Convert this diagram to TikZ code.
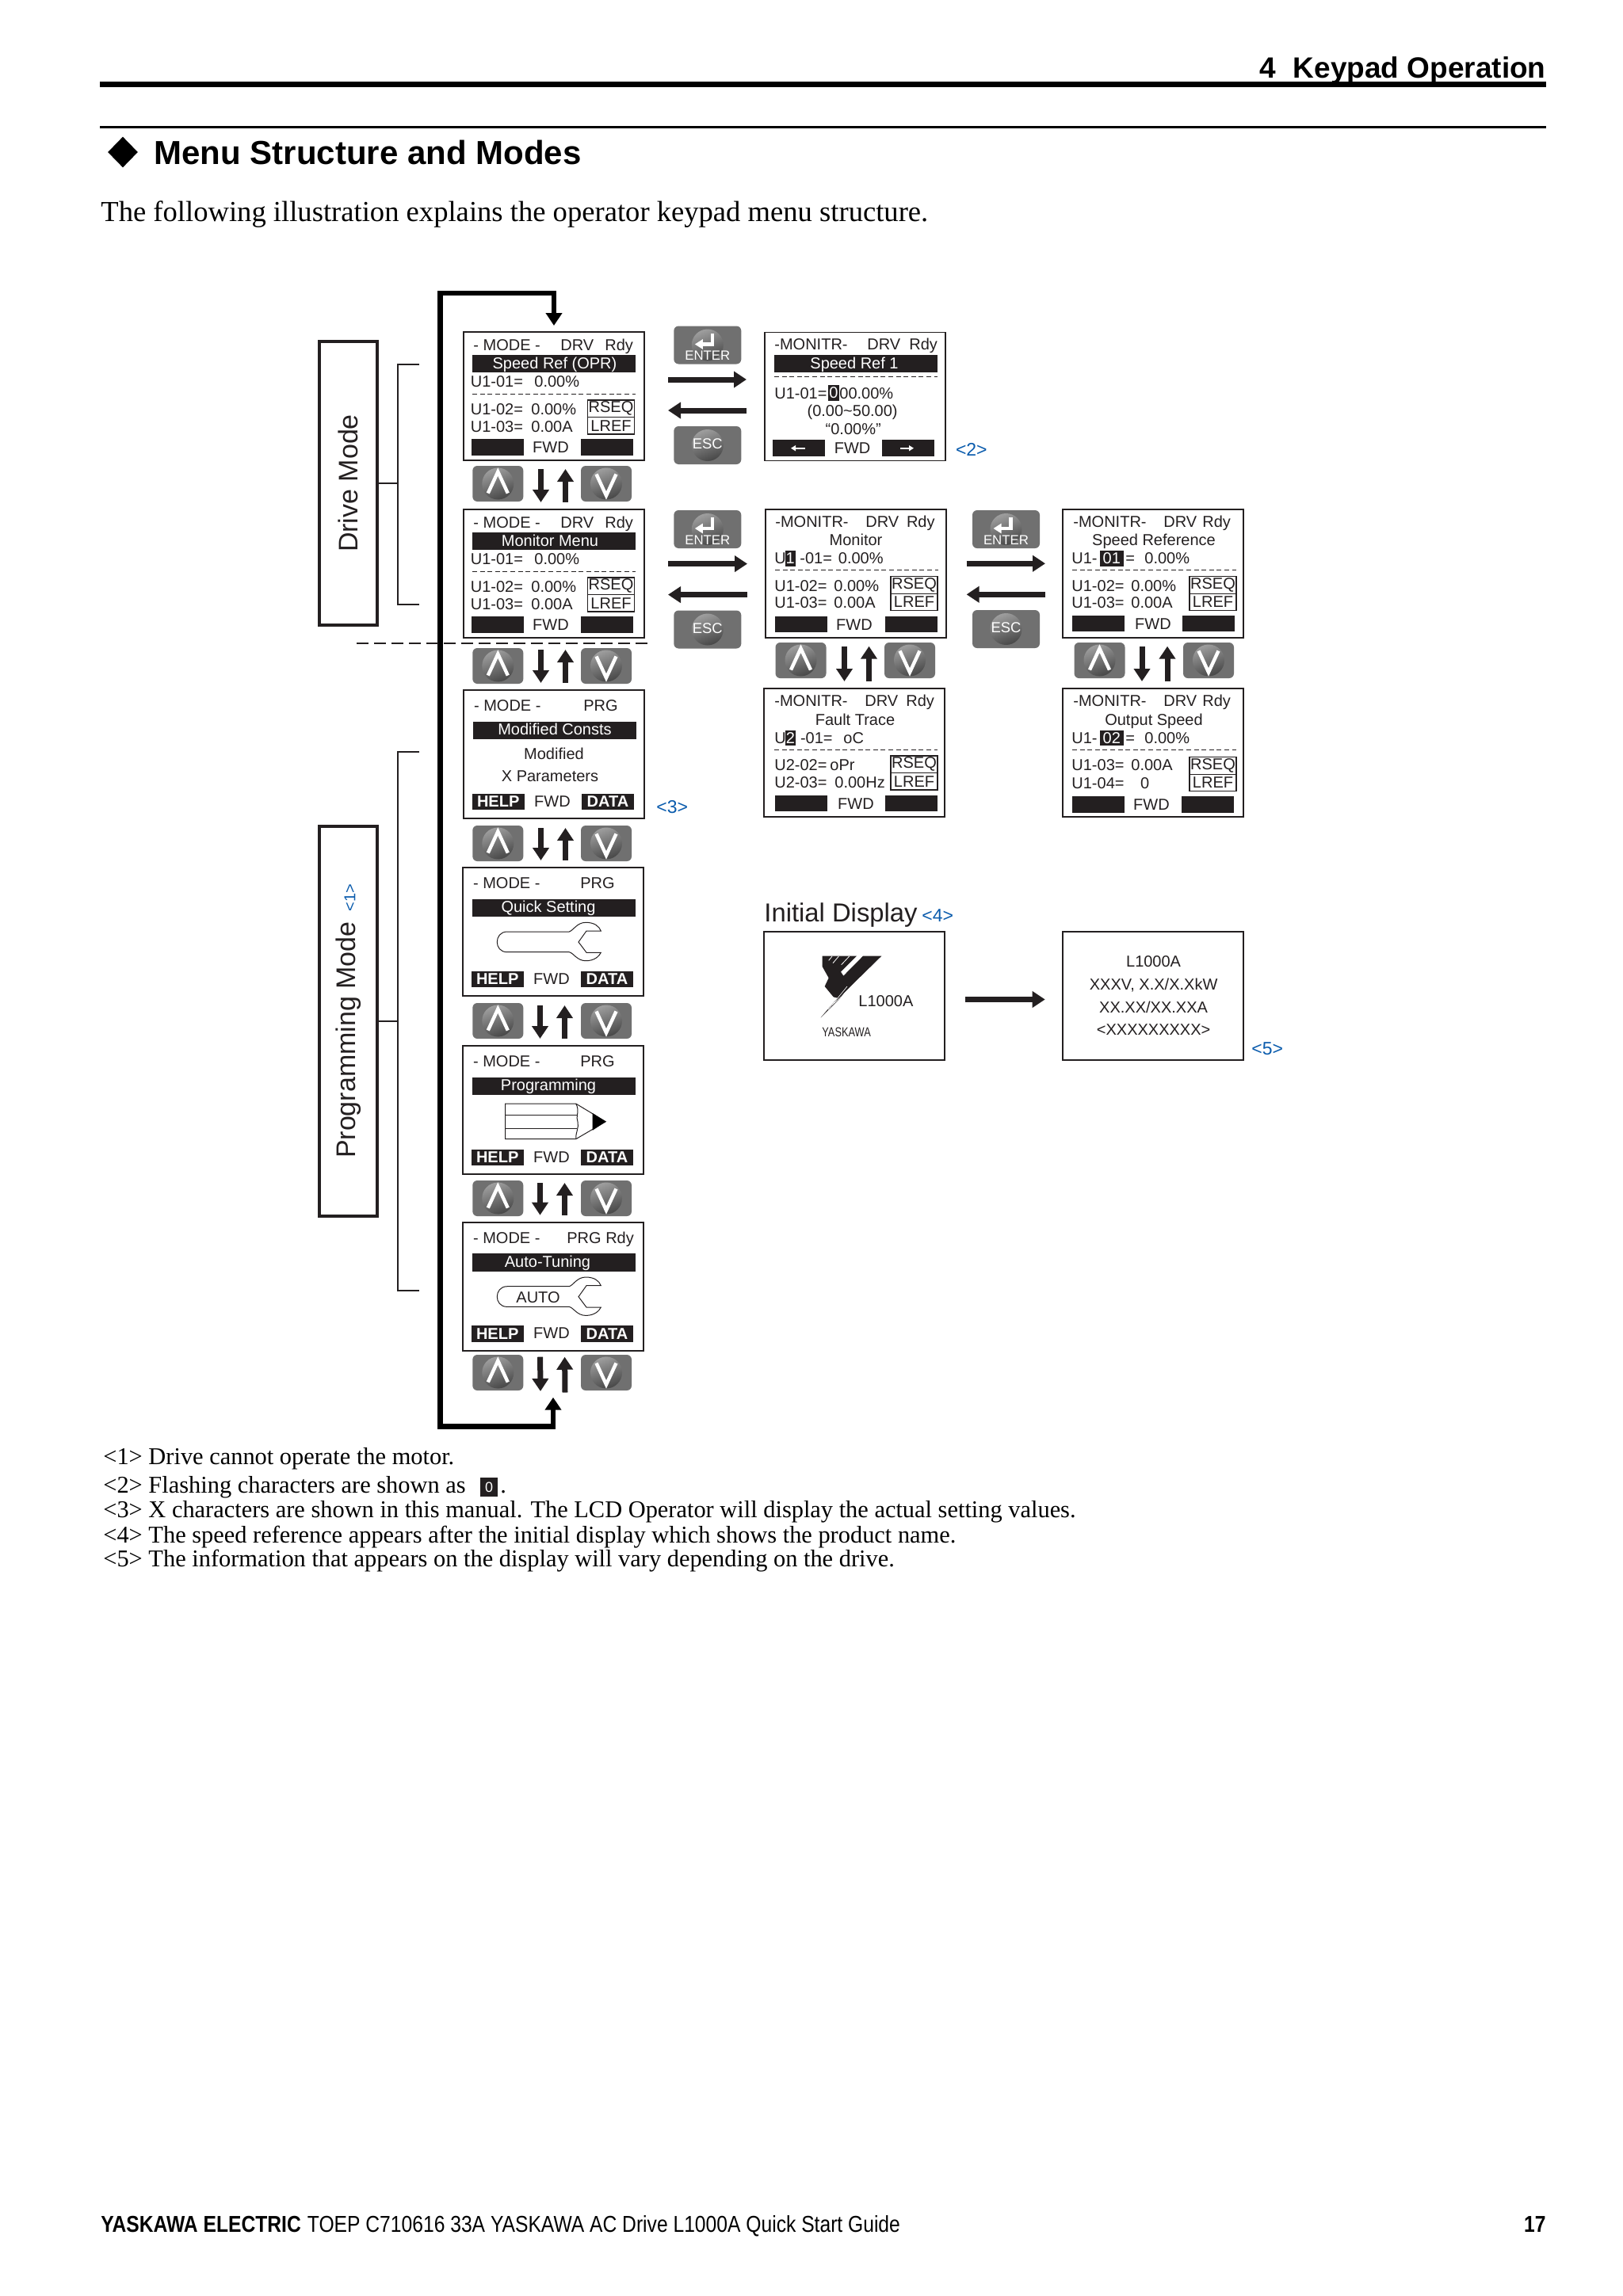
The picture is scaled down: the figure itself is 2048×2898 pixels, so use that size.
\documentclass[tikz,border=0pt]{standalone}
\usepackage{fontspec}
\setmainfont{Liberation Serif}
\setsansfont{Liberation Sans}
\usetikzlibrary{arrows.meta,shapes.geometric}

\definecolor{lcdink}{HTML}{231F20}
\definecolor{keygray}{HTML}{707070}
\definecolor{noteblue}{HTML}{0B5CAD}
\newcommand{\lcdfont}{\sffamily\fontsize{10}{12}\selectfont}
\newcounter{lcdn}

\tikzset{
  lcdbox/.style={draw=lcdink,line width=.8pt,anchor=north west,inner sep=0pt,outer sep=0pt,minimum width=114pt,minimum height=81pt},
  lcdtext/.style={font=\lcdfont,text=lcdink,inner sep=0pt,anchor=base west},
  lcdmid/.style={lcdtext,anchor=base},
  lcdwhite/.style={lcdmid,text=white},
  lcdtag/.style={draw=lcdink,line width=.6pt,font=\lcdfont,text=lcdink,anchor=north west,inner sep=0pt,outer sep=0pt,minimum width=29.5pt,minimum height=10.75pt},
  softkey/.style={fill=lcdink,font=\lcdfont\bfseries,text=white,anchor=north west,inner sep=0pt,outer sep=0pt,minimum width=33pt,minimum height=10.3pt},
  keycap/.style={fill=keygray,rounded corners=3pt,inner sep=0pt,outer sep=0pt,minimum width=32pt,minimum height=22.5pt},
  menukey/.style={keycap,minimum width=42.5pt,minimum height=24pt},
  keyball/.style={left color=black!38,right color=black!72,shading angle=20},
  chevron/.style={draw=white,line width=2.2pt,miter limit=10},
  bigarrow/.style={-{Triangle[length=8pt,width=10pt]},line width=3.5pt,draw=lcdink},
  keyarrow/.style={bigarrow},
  looparrow/.style={{Triangle[length=8pt,width=10pt]}-{Triangle[length=8pt,width=10pt]},line width=3.4pt,draw=black,line join=miter},
  softarrow/.style={-{Triangle[length=3pt,width=3.5pt]},draw=white,line width=1pt},
  bracket/.style={draw=lcdink,line width=1.2pt},
  modebox/.style={draw=lcdink,line width=1.6pt,anchor=north west,inner sep=0pt,outer sep=0pt,minimum width=36.5pt,text=lcdink,font=\sffamily\fontsize{17}{20}\selectfont},
  lcddash/.style={draw=lcdink,line width=.5pt,dash pattern=on 3pt off 1.8pt},
  refmark/.style={font=\sffamily\fontsize{11.5}{14}\selectfont,text=noteblue,inner sep=0pt,anchor=base west},
  bodytext/.style={font=\fontsize{18.3}{22}\selectfont,text=black,inner sep=0pt,anchor=base west},
  notetext/.style={font=\fontsize{15.2}{18}\selectfont,text=black,inner sep=0pt,anchor=base west},
  headtext/.style={font=\sffamily\bfseries\fontsize{18.5}{22}\selectfont,text=black,inner sep=0pt},
  foottext/.style={font=\sffamily\fontsize{14.5}{17}\selectfont,text=black,inner sep=0pt},
}

\newcommand{\lcdl}[3]{\stepcounter{lcdn}\node[lcdtext] (lcdt\arabic{lcdn}) at (#1,#2) {#3};}
\newcommand{\lcdc}[3]{\stepcounter{lcdn}\node[lcdmid] (lcdt\arabic{lcdn}) at (#1,#2) {#3};}
\newcommand{\lcdw}[3]{\stepcounter{lcdn}\node[lcdwhite] (lcdt\arabic{lcdn}) at (#1,#2) {#3};}
% x left, x right, y top, text of a flashing field
\newcommand{\lcdflash}[4]{\fill[lcdink] (#1,#3) rectangle (#2,#3+19.5);
  \lcdw{#1/2+#2/2}{#3+16.5}{#4}}
\newcommand{\rseqlref}[3]{\node[lcdtag] (#1seq) at (#2,#3) {RSEQ};
  \node[lcdtag] (#1ref) at (#2,#3+21.5) {LREF};}
% left bar, right bar, y top, centre of FWD
\newcommand{\softbars}[4]{\fill[lcdink] (#1,#3) rectangle (#1+66,#3+20.7);
  \fill[lcdink] (#2,#3) rectangle (#2+66,#3+20.7);
  \lcdc{#4}{#3+17.3}{FWD}}

\newcommand{\drivepanel}[5]{
  \begin{scope}[shift={(#2,#3)}]
    \node[lcdbox] (#1) at (0,0) {};
    \lcdl{12}{23}{- MODE -} \lcdl{122}{23}{DRV} \lcdl{178}{23}{Rdy}
    \fill[lcdink] (11,28.5) rectangle (217,51);
    \lcdw{#5}{46.5}{#4}
    \lcdl{8.5}{69}{U1-01=} \lcdl{89}{69}{0.00\%}
    \draw[lcddash] (11,78) -- (217,78);
    \lcdl{8.5}{104}{U1-02=} \lcdl{85}{104}{0.00\%}
    \lcdl{8.5}{126}{U1-03=} \lcdl{85}{126}{0.00A}
    \rseqlref{#1}{156.5}{86}
    \softbars{9.5}{148}{134.8}{110}
  \end{scope}}

\newcommand{\progpanel}[8]{
  \begin{scope}[shift={(#2,#3)}]
    \node[lcdbox] (#1) at (0,0) {};
    \lcdl{12.7}{26.7}{- MODE -} \lcdl{#5}{26.7}{#4}
    \fill[lcdink] (12,39.5) rectangle (218,62);
    \lcdw{#7}{56.6}{#6}
    \node[softkey] (#1help) at (10.7,130.5) {HELP};
    \node[softkey] (#1data) at (149,130.5) {DATA};
    \lcdc{112}{147}{FWD}
    #8
  \end{scope}}

\newcommand{\wrenchicon}{\draw[lcdink,line width=.5pt] (56,81) .. controls (47,81) and (43.3,88) .. (43.3,94)
    .. controls (43.3,100) and (47,106.7) .. (56,106.7) -- (134.3,106.7)
    .. controls (140,108) and (144,117.7) .. (155.3,117.7) .. controls (166,117.7) and (172,112) .. (174.3,107.3)
    -- (156,107.3) -- (146,94) -- (156,80) -- (174.3,80)
    .. controls (172,74) and (166,69.3) .. (155.3,69.3) .. controls (144,69.3) and (140,79) .. (134.3,81) -- cycle;}

\newcommand{\keyball}[3]{\shade[keyball] (#1.center) ++(#2,#3) circle [radius=10pt];}
\newcommand{\keypair}[4]{
  \node[keycap] (#1up) at (#2,#4) {};
  \keyball{#1up}{0}{0}
  \draw[chevron] ([xshift=-6.25pt,yshift=-6pt]#1up.center) -- ([yshift=7.5pt]#1up.center) -- ([xshift=6.25pt,yshift=-6pt]#1up.center);
  \node[keycap] (#1dn) at (#3,#4) {};
  \keyball{#1dn}{0}{0}
  \draw[chevron] ([xshift=-6.25pt,yshift=6pt]#1dn.center) -- ([yshift=-7.5pt]#1dn.center) -- ([xshift=6.25pt,yshift=6pt]#1dn.center);}
\newcommand{\enterkey}[3]{
  \node[menukey] (#1) at (#2,#3) {};
  \keyball{#1}{0}{0}
  \draw[white,line width=2.2pt,-{Triangle[length=5pt,width=6pt]}] ([xshift=3pt,yshift=7.5pt]#1.center) -- ([xshift=3pt,yshift=.5pt]#1.center) -- ([xshift=-8pt,yshift=.5pt]#1.center);
  \lcdfontnode{#1}{9.5}{8.4}{ENTER}}
\newcommand{\esckey}[3]{
  \node[menukey] (#1) at (#2,#3) {};
  \keyball{#1}{0}{0}
  \lcdfontnode{#1}{2.3}{9.2}{ESC}}
\newcommand{\lcdfontnode}[4]{\node[inner sep=0pt,anchor=base,text=white,font=\sffamily\fontsize{#3}{10}\selectfont] (#1txt) at ([yshift=-#2pt]#1.center) {#4};}

% arrows between the screens of one column
\newcommand{\keyflip}[5][5.5pt]{
  \draw[keyarrow,shorten <=#1,shorten >=4.5pt] ([xshift=#4]#2.south) -- ([xshift=#4]#2.south |- #3.north);
  \draw[keyarrow,shorten <=4.5pt,shorten >=#1] ([xshift=#5]#2.south |- #3.north) -- ([xshift=#5]#2.south);}
% enter and esc arrows between two screens
\newcommand{\sideflip}[6]{
  \draw[bigarrow,shorten <=#5,shorten >=#6] ([yshift=#3]#1.east) -- ([yshift=#3]#1.east -| #2.west);
  \draw[bigarrow,shorten <=#6,shorten >=#5] ([yshift=#4]#1.east -| #2.west) -- ([yshift=#4]#1.east);}

\begin{document}
\begin{tikzpicture}[x=.5pt,y=-.5pt]
  \useasboundingbox (0,0) rectangle (2048,2898);

  % page head
  \node[headtext,anchor=base east] (chapter) at (1951,98) {4\hspace{.6em}Keypad Operation};
  \fill[black] (126,103) rectangle (1951,110);
  \fill[black] (126,158.7) rectangle (1951,161.5);
  \node[diamond,fill=black,inner sep=0pt,minimum width=19pt,minimum height=19.5pt,aspect=1] (mark) at (155,192) {};
  \node[headtext,anchor=base west,font=\sffamily\bfseries\fontsize{21}{25}\selectfont] (title) at (194,207) {Menu Structure and Modes};
  \node[bodytext] (intro) at (127,279) {The following illustration explains the operator keypad menu structure.};

  % mode labels
  \node[modebox,minimum height=179pt] (drivemode) at (403,431) {\rotatebox{90}{Drive Mode}};
  \node[modebox,minimum height=246pt] (progmode) at (403,1043) {\rotatebox{90}{Programming Mode {\fontsize{10}{12}\selectfont\color{noteblue}\,<1>}}};

  \coordinate (drvup) at (529,460);
  \coordinate (drvdn) at (529,762.7);
  \coordinate (prgup) at (529,949);
  \coordinate (prgdn) at (529,1629);
  \draw[bracket] (drvup) -- ++(-27,0) |- (drvdn);
  \draw[bracket] (drivemode.east) -- (drivemode.east -| 502,0);
  \draw[bracket] (prgup) -- ++(-27,0) |- (prgdn);
  \draw[bracket] (progmode.east) -- (progmode.east -| 502,0);

  % screens, first column
  \drivepanel{A1}{585}{419}{Speed Ref (OPR)}{115}
  \drivepanel{A2}{585}{643}{Monitor Menu}{109}
  \progpanel{A3}{585}{871}{PRG}{151}{Modified Consts}{115}{
    \lcdc{114}{87.3}{Modified}
    \lcdc{109}{115.7}{X Parameters}}
  \progpanel{A4}{584}{1095}{PRG}{148}{Quick Setting}{108}{\wrenchicon}
  \progpanel{A5}{584}{1320}{PRG}{148}{Programming}{108}{
    \draw[lcdink,line width=.5pt] (142.7,73) -- (53.7,73) -- (53.7,117.7) -- (142.7,117.7) -- (180.3,95.7) -- cycle;
    \draw[lcdink,line width=.5pt] (53.7,87) -- (144,87) (53.7,104) -- (144,104);
    \draw[lcdink,line width=.5pt] (142.7,73) .. controls (148,82) and (142,90) .. (145,96) .. controls (147,103) and (142,110) .. (142.7,117.7);
    \fill[black] (163.7,85) -- (180.3,95.7) -- (163.7,106.7) -- cycle;}
  \progpanel{A6}{584}{1542.7}{PRG Rdy}{131}{Auto-Tuning}{107}{\wrenchicon
    \lcdc{95}{102}{AUTO}}

  \keypair{K1}{628.3}{765}{610.5}
  \keypair{K2}{628.3}{765}{840.5}
  \keypair{K3}{628.3}{765}{1064.5}
  \keypair{K4}{628.3}{765}{1288.5}
  \keypair{K5}{628.3}{765}{1512.5}
  \keypair{K6}{628.3}{765}{1732.5}

  \keyflip{A1}{A2}{-8.25pt}{7.25pt}
  \keyflip[7.5pt]{A2}{A3}{-8.25pt}{7.25pt}
  \keyflip[6pt]{A3}{A4}{-8.25pt}{7.25pt}
  \keyflip[6pt]{A4}{A5}{-8.25pt}{7.25pt}
  \keyflip{A5}{A6}{-8.25pt}{7.25pt}
  \coordinate (footdn) at (682,1756);
  \coordinate (footup) at (713,1757.5);
  \draw[keyarrow,shorten <=4pt] ([xshift=-8.25pt]A6.south) -- (footdn);
  \draw[keyarrow,shorten >=4pt] (footup) -- ([xshift=7.25pt]A6.south);

  % the way round, from the last screen to the first
  \coordinate (looptop) at (555.7,370);
  \coordinate (loopbot) at (555.7,1800.5);
  \draw[looparrow,shorten <=29.5pt,shorten >=4pt] (A6.south) -- (A6.south |- loopbot) -- (loopbot) -- (looptop) -- (A1.north |- looptop) -- (A1.north);

  % border between the two groups of modes
  \coordinate (splitl) at (450,811.7);
  \coordinate (splitr) at (817,811.7);
  \draw[lcdink,line width=1pt,dash pattern=on 7.5pt off 3.5pt] (splitl) -- (splitr);

  % second column
  \begin{scope}[shift={(965,419.3)}]
    \node[lcdbox] (B1) at (0,0) {};
    \lcdl{12}{22.5}{-MONITR-} \lcdl{129}{22.5}{DRV} \lcdl{182}{22.5}{Rdy}
    \fill[lcdink] (12,28.5) rectangle (217.5,51);
    \lcdw{113}{46}{Speed Ref 1}
    \draw[lcddash] (12,56.5) -- (217.5,56.5);
    \lcdl{12}{83.7}{U1-01=} \lcdflash{80}{94}{66.7}{0}
    \lcdl{94}{83.7}{00.00\%}
    \lcdc{110.6}{106.4}{(0.00\textasciitilde 50.00)}
    \lcdc{111.7}{128.7}{“0.00\%”}
    \softbars{10}{148}{135.7}{110.6}
    \draw[softarrow] (51,146.4) -- (33,146.4);
    \draw[softarrow] (171,146.4) -- (188,146.4);
  \end{scope}

  \begin{scope}[shift={(966,642.7)}]
    \node[lcdbox] (B2) at (0,0) {};
    \lcdl{12}{22.5}{-MONITR-} \lcdl{126}{22.5}{DRV} \lcdl{177.6}{22.5}{Rdy}
    \lcdc{114}{45.5}{Monitor}
    \lcdl{11}{69}{U} \lcdflash{24.5}{38}{52.5}{1} \lcdl{43}{69}{-01=} \lcdl{91.5}{69}{0.00\%}
    \draw[lcddash] (12,76.5) -- (217.5,76.5);
    \lcdl{11}{103.5}{U1-02=} \lcdl{86}{103.5}{0.00\%}
    \lcdl{11}{125}{U1-03=} \lcdl{86}{125}{0.00A}
    \rseqlref{B2}{158}{85}
    \softbars{12}{151}{135}{112}
  \end{scope}

  \begin{scope}[shift={(964,869)}]
    \node[lcdbox] (B3) at (0,0) {};
    \lcdl{13}{22.7}{-MONITR-} \lcdl{127}{22.7}{DRV} \lcdl{179}{22.7}{Rdy}
    \lcdc{115}{46}{Fault Trace}
    \lcdl{13}{69}{U} \lcdflash{27}{40}{52.7}{2} \lcdl{45.6}{69}{-01=} \lcdl{100}{69}{oC}
    \draw[lcddash] (13,77.7) -- (218.7,77.7);
    \lcdl{13}{103}{U2-02=} \lcdl{83}{103}{oPr}
    \lcdl{13}{125}{U2-03=} \lcdl{89}{125}{0.00Hz}
    \rseqlref{B3}{160}{85}
    \softbars{14}{153}{134.7}{116}
  \end{scope}

  % third column
  \begin{scope}[shift={(1341,642.7)}]
    \node[lcdbox] (C1) at (0,0) {};
    \lcdl{13}{22.5}{-MONITR-} \lcdl{127}{22.5}{DRV} \lcdl{176}{22.5}{Rdy}
    \lcdc{115}{45.5}{Speed Reference}
    \lcdl{11}{69}{U1-} \lcdflash{47}{76.5}{52.5}{01} \lcdl{79}{69}{=} \lcdl{103}{69}{0.00\%}
    \draw[lcddash] (12,76.5) -- (218.6,76.5);
    \lcdl{11}{103.5}{U1-02=} \lcdl{86}{103.5}{0.00\%}
    \lcdl{11}{125}{U1-03=} \lcdl{86}{125}{0.00A}
    \rseqlref{C1}{160}{85}
    \softbars{11.6}{151}{134}{114}
  \end{scope}

  \begin{scope}[shift={(1341,869)}]
    \node[lcdbox] (C2) at (0,0) {};
    \lcdl{13}{22.7}{-MONITR-} \lcdl{127}{22.7}{DRV} \lcdl{176}{22.7}{Rdy}
    \lcdc{115}{46}{Output Speed}
    \lcdl{11}{69}{U1-} \lcdflash{47}{76.5}{52.7}{02} \lcdl{79}{69}{=} \lcdl{103}{69}{0.00\%}
    \draw[lcddash] (12,77.7) -- (218.6,77.7);
    \lcdl{11}{103}{U1-03=} \lcdl{86}{103}{0.00A}
    \lcdl{11}{126}{U1-04=} \lcdl{97.7}{126}{0}
    \rseqlref{C2}{160}{86.7}
    \softbars{11.6}{150}{136}{112}
  \end{scope}

  \enterkey{E1}{892.8}{435.5}
  \esckey{S1}{892.8}{562}
  \enterkey{E2}{892.8}{668}
  \esckey{S2}{892.8}{794.5}
  \enterkey{E3}{1269.5}{668}
  \esckey{S3}{1269.5}{794}

  \sideflip{A1}{B1}{10.5pt}{-9pt}{15pt}{11.5pt}
  \sideflip{A2}{B2}{6.2pt}{-13.3pt}{15pt}{11.5pt}
  \sideflip{B2}{C1}{6.2pt}{-13.3pt}{12.8pt}{11pt}

  \keypair{K7}{1010.5}{1148}{833.5}
  \keypair{K8}{1387.5}{1525}{833.5}
  \keyflip{B2}{B3}{-7.25pt}{8.25pt}
  \keyflip{C1}{C2}{-7pt}{9pt}

  % initial display
  \node[inner sep=0pt,anchor=base west,text=lcdink,font=\sffamily\fontsize{16.4}{20}\selectfont] (initial) at (964,1163) {Initial Display};
  \node[lcdbox] (D1) at (964,1176) {};
  \node[lcdbox] (D2) at (1340.7,1176) {};
  \draw[bigarrow,shorten <=13pt,shorten >=11pt] ([yshift=-2.25pt]D1.east) -- ([yshift=-2.25pt]D1.east -| D2.west);
  \begin{scope}[shift={(1025,1195)},x=.1667pt,y=-.1667pt]
    \fill[lcdink] (38,35) -- (168,35) -- (108,95) -- (118,110) -- (192,35) -- (262,35) -- (165,130) -- (100,195) -- (80,190) -- (47,150) -- (62,118) -- (38,75) -- cycle;
    \draw[white,line width=.4pt] (75,36) -- (62,52) (100,36) -- (78,62) (140,36) -- (110,68);
    \fill[lcdink] (150,130) -- (108,192) -- (32,268) -- cycle;
    \draw[white,line width=.3pt] (132,150) -- (60,238) (120,180) -- (70,225);
  \end{scope}
  \lcdl{1083}{1270}{L1000A}
  \stepcounter{lcdn}
  \node[lcdtext,font=\sffamily\fontsize{8.2}{10}\selectfont] (lcdt\arabic{lcdn}) at (1037,1308) {\scalebox{.78}[1]{YASKAWA}};
  \lcdc{1455.6}{1220}{L1000A}
  \lcdc{1455.6}{1249}{XXXV, X.X/X.XkW}
  \lcdc{1455.6}{1278}{XX.XX/XX.XXA}
  \lcdc{1455.6}{1306}{<XXXXXXXXX>}

  % reference marks
  \node[refmark] (ref2) at (1205.6,575) {<2>};
  \node[refmark] (ref3) at (828,1026) {<3>};
  \node[refmark] (ref4) at (1163,1163) {<4>};
  \node[refmark] (ref5) at (1579,1331) {<5>};

  % notes
  \node[notetext] (note1) at (130,1848) {<1> Drive cannot operate the motor.};
  \node[notetext] (note2) at (130,1884) {<2> Flashing characters are shown as};
  \node[fill=lcdink,text=white,inner sep=0pt,minimum width=11pt,minimum height=12pt,font=\sffamily\fontsize{9}{10}\selectfont] (flash0) at (617,1877) {0};
  \node[notetext] (note2b) at (631,1884) {.};
  \node[notetext] (note3) at (130,1915) {<3> X characters are shown in this manual. The LCD Operator will display the actual setting values.};
  \node[notetext] (note4) at (130,1947) {<4> The speed reference appears after the initial display which shows the product name.};
  \node[notetext] (note5) at (130,1977) {<5> The information that appears on the display will vary depending on the drive.};

  % page foot
  \node[foottext,anchor=base west] (footer) at (127,2817) {\scalebox{.85}[1]{\bfseries YASKAWA ELECTRIC} \scalebox{.85}[1]{TOEP C710616 33A YASKAWA AC Drive L1000A Quick Start Guide}};
  \node[foottext,anchor=base east] (pageno) at (1951,2817) {\scalebox{.85}[1]{\bfseries 17}};
\end{tikzpicture}
\end{document}
